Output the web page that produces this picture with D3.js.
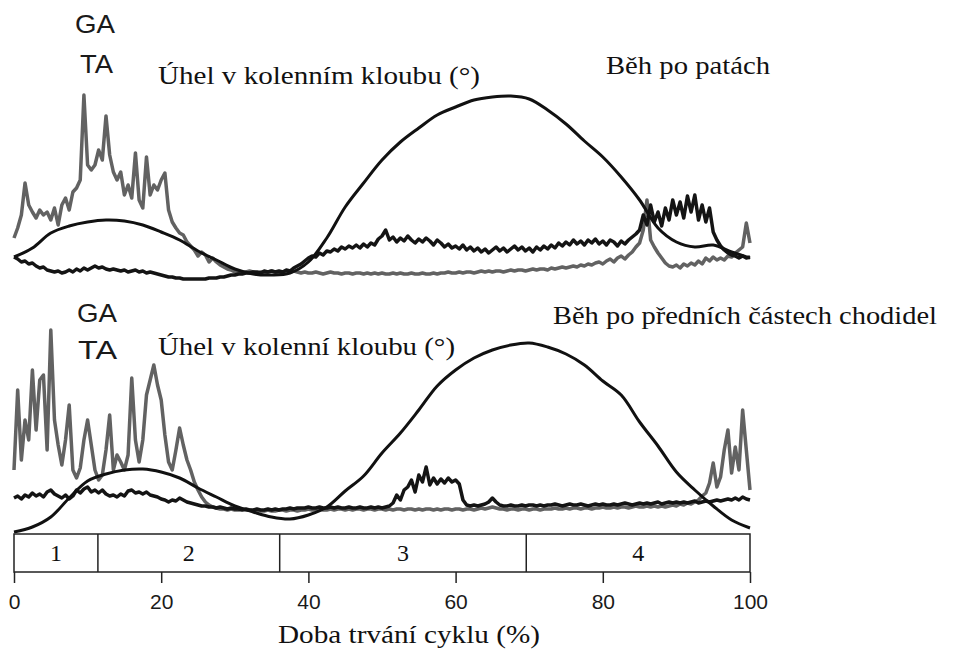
<!DOCTYPE html>
<head>
  <meta charset="utf-8">
  <style>
    body { margin: 0; background: #fff; }
    svg { background-color: #fff; }
    .serif { font-family: "Liberation Serif", "Times New Roman", serif; fill: #111; }
    .sans { font-family: "Liberation Sans", Arial, sans-serif; fill: #1a1a1a; }
    .ga { fill: none; stroke: #626262; stroke-width: 3.5px; stroke-linejoin: round; }
    .ta { fill: none; stroke: #141414; stroke-width: 3.5px; stroke-linejoin: round; }
    .knee { fill: none; stroke: #111; stroke-width: 3px; }
    .phase { fill: none; stroke: #222; stroke-width: 1.5px; }
  </style>
</head>
<body>
<svg></svg>
<script src="https://d3js.org/d3.v7.min.js"></script>
<script>
  // x axis and gait phases (% of cycle)
  const cycleTicks = [0, 20, 40, 60, 80, 100];
  const phaseBounds = [0, 11.4, 36.1, 69.6, 100];
  const phaseLabels = ["1", "2", "3", "4"];

  // Běh po patách -- EMG every 0.5 % of the cycle (arbitrary units)
  const heelGA = [
    47, 57, 70, 102, 80, 73, 67, 75, 70, 73,
    65, 77, 60, 80, 87, 75, 93, 97, 105, 190,
    120, 115, 120, 135, 125, 169, 130, 113, 105, 113,
    90, 100, 87, 132, 85, 77, 128, 90, 100, 95,
    105, 112, 75, 63, 57, 52, 50, 43, 39, 35,
    29, 33, 30, 23, 27, 23, 20, 18, 16, 15,
    13,
    13, 12, 13, 14, 13, 12, 13, 12, 13, 14,
    13, 12, 13, 12, 13, 14, 13, 12, 13, 12,
    12, 13, 12, 11, 12, 13, 12, 12, 11, 12,
    12, 11, 12, 12, 11, 12, 11, 12, 11, 12,
    11, 11, 12, 11, 12, 11, 11, 12, 11, 11,
    12, 11, 11, 12, 11, 12, 12, 13, 12, 12,
    13, 12, 13, 13, 12, 13, 14, 13, 14, 13,
    14, 14, 13, 14, 15, 14, 15, 15, 14, 15,
    16, 15, 16, 16, 15, 17, 16, 17, 18, 17,
    18, 19, 18, 20, 19, 21, 20, 22, 23, 21,
    24, 26, 23, 27, 29, 26, 30, 33, 38, 42,
    55, 85, 45, 38, 32, 27, 22, 19, 18, 20,
    17, 21, 19, 22, 20, 24, 21, 27, 24, 28,
    25, 27, 25, 29, 28, 32, 35, 38, 62, 42
  ];
  const heelTA = [
    28, 26, 23, 24, 21, 22, 19, 17, 18, 15,
    14, 13, 14, 12, 13, 15, 13, 16, 14, 17,
    15, 17, 19, 17, 18, 16, 15, 16, 15, 14,
    15, 13, 14, 15, 13, 14, 12, 13, 12, 11,
    10, 9, 8, 8, 7, 7, 6, 6, 6, 6,
    6, 6, 6, 7, 7, 7, 8, 8, 9, 10,
    10, 11, 11, 12, 12, 13, 13, 12, 14, 13,
    14, 13, 14, 13, 15, 14, 17, 19, 21, 24,
    27, 29, 28, 32, 30, 34, 33, 36, 34, 38,
    36, 39, 37, 40, 37, 41, 38, 42, 40, 46,
    49, 55, 45, 48, 43, 47, 44, 49, 45, 42,
    46, 43, 47, 44, 40, 45, 42, 38, 41, 37,
    39, 36, 40, 35, 38, 34, 37, 33, 36, 32,
    35, 38, 34, 37, 33, 36, 39, 35, 38, 34,
    37, 33, 38, 35, 39, 36, 40, 37, 42, 39,
    43, 40, 45, 41, 44, 40, 45, 42, 46, 41,
    44, 40, 45, 43, 39, 44, 41, 45, 48, 51,
    55, 70, 60, 80, 63, 73, 59, 77, 65, 85,
    70, 83, 67, 89, 73, 90, 65, 80, 63, 77,
    53, 45, 39, 35, 32, 30, 29, 27, 29, 27,
    28
  ];
  // knee angle every 2.5 %
  const heelKnee = [
    28, 37, 52, 59, 63, 65, 64, 60, 53, 45,
    34, 25, 16, 11, 10, 12, 23, 47, 78, 102,
    125, 143, 157, 170, 178, 185, 188, 189, 186, 175,
    161, 144, 128, 108, 85, 57, 43, 38, 40, 33,
    27
  ];

  // Běh po předních částech chodidel
  const foreGA = [
    70, 150, 80, 120, 100, 170, 110, 160, 165, 90,
    210, 120, 95, 75, 100, 135, 70, 62, 72, 100,
    120, 95, 70, 60, 65, 90, 125, 70, 85, 78,
    70, 85, 162, 100, 78, 100, 145, 160, 175, 155,
    140, 105, 78, 70, 90, 112, 95, 80, 70, 58,
    50, 43, 38, 35, 33,
    32, 31, 31, 30, 31, 30, 30, 31, 30, 30,
    29, 30, 29, 29, 30, 29, 29, 30, 30, 29,
    30, 30, 29, 30, 30, 31, 30, 30, 31, 30,
    30, 31, 30, 31, 31, 30, 31, 30, 31, 31,
    30, 31, 31, 30, 31, 31, 30, 31, 30, 31,
    31, 30, 31, 31, 30, 31, 30, 31, 31, 30,
    31, 30, 31, 31, 30, 31, 31, 30, 31, 31,
    30, 31, 32, 31, 32, 33, 32, 31, 31, 30,
    31, 31, 30, 31, 31, 30, 31, 31, 30, 31,
    31, 31, 32, 31, 31, 32, 31, 32, 32, 31,
    32, 32, 31, 32, 32, 33, 32, 32, 33, 32,
    33, 33, 32, 33, 34, 33, 33, 34, 33, 34,
    33, 34, 33, 34, 35, 34, 36, 35, 37,
    36, 38, 40, 44, 47, 57, 77, 53, 63, 90,
    110, 67, 93, 70, 130, 90, 50
  ];
  const foreTA = [
    42, 44, 41, 45, 43, 47, 44, 46, 43, 48,
    50, 46, 44, 42, 45, 41, 44, 50, 47, 51,
    53, 48, 50, 47, 50, 46, 44, 45, 43, 46,
    44, 49, 50, 47, 48, 46, 48, 45, 44, 43,
    41, 40, 38, 40, 39, 42, 40, 38, 37, 36,
    35,
    34, 34, 33, 33, 32, 33, 32, 31, 32, 31,
    31, 30, 31, 30, 30, 31, 30, 30, 31, 30,
    31, 30, 31, 31, 32, 31, 32, 32, 32, 33,
    32, 32, 33, 32, 32, 33, 32, 33, 32, 32,
    33, 32, 32, 33, 32, 32, 33, 32, 33, 32,
    33, 34,
    37, 45, 40, 50, 53, 60, 48, 65, 58, 73,
    55, 62, 56, 61, 57, 62, 58, 60, 56, 40,
    35, 34, 35, 34, 35, 36, 38, 42, 38, 35,
    34,
    34, 35, 34, 34, 35, 34, 35, 35, 34, 35,
    34, 35, 35, 36, 35, 34, 35, 36, 35, 35,
    36, 35, 34, 35, 36, 35, 36, 35, 35, 36,
    35, 36, 37, 36, 35, 36, 37, 36, 37, 36,
    37, 38, 36, 37, 38, 37, 38, 37, 38, 37,
    38, 39, 37, 38, 39, 38, 39, 40, 39, 40,
    41, 40, 42, 40, 43, 41, 40
  ];
  const foreKnee = [
    8, 13, 23, 42, 59, 66, 70, 71, 68, 62,
    52, 43, 34, 28, 23, 21, 25, 33, 49, 64,
    87, 107, 130, 154, 170, 182, 190, 195, 197, 193,
    186, 175, 159, 145, 118, 94, 68, 50, 34, 20,
    12
  ];

  const width = 953, height = 650;
  const svg = d3.select('svg').attr('width', width).attr('height', height);

  const x = d3.scaleLinear().domain([0, 100]).range([14, 750]);
  const yHeel = d3.scaleLinear().domain([0, 190]).range([285, 95]);
  const yFore = d3.scaleLinear().domain([0, 200]).range([540, 340]);

  function drawPanel(y, ga, ta, knee) {
    let g = svg.append('g');
    let emg = d3.line()
        .x(function(d, i, arr) { return x(i * 100 / (arr.length - 1)) })
        .y(function(d) { return y(d) });
    let smooth = d3.line()
        .x(function(d, i, arr) { return x(i * 100 / (arr.length - 1)) })
        .y(function(d) { return y(d) })
        .curve(d3.curveCatmullRom);

    g.append('path').datum(ga).classed('ga', true).attr('d', emg);
    g.append('path').datum(ta).classed('ta', true).attr('d', emg);
    g.append('path').datum(knee).classed('knee', true).attr('d', smooth);
  }

  drawPanel(yHeel, heelGA, heelTA, heelKnee);
  drawPanel(yFore, foreGA, foreTA, foreKnee);

  // labels
  function label(txt, cls, px, py, size, len) {
    let t = svg.append('text').classed(cls, true)
        .attr('x', px).attr('y', py)
        .style('font-size', size + 'px')
        .text(txt);
    if (len) t.attr('textLength', len).attr('lengthAdjust', 'spacingAndGlyphs');
    return t;
  }

  label('GA', 'sans', 75, 33, 25, 40);
  label('TA', 'sans', 80, 73, 25, 33);
  label('Úhel v kolenním kloubu (°)', 'serif', 158, 84, 26, 322);
  label('Běh po patách', 'serif', 606, 74, 26, 164);

  label('GA', 'sans', 77, 322, 25, 40);
  label('TA', 'sans', 78, 359, 25, 39);
  label('Úhel v kolenní kloubu (°)', 'serif', 158, 355, 26, 297);
  label('Běh po předních částech chodidel', 'serif', 553, 324, 26, 384);

  // phase box
  let boxTop = 534, boxBottom = 572;
  let phases = svg.append('g');
  phases.append('rect').classed('phase', true)
      .attr('x', x(0)).attr('y', boxTop)
      .attr('width', x(100) - x(0)).attr('height', boxBottom - boxTop);
  phases.selectAll('.divider')
      .data(phaseBounds.slice(1, -1))
      .enter().append('line')
      .classed('phase', true)
      .attr('x1', function(d) { return x(d) }).attr('x2', function(d) { return x(d) })
      .attr('y1', boxTop).attr('y2', boxBottom);
  phases.selectAll('.num')
      .data(phaseLabels)
      .enter().append('text')
      .classed('serif', true)
      .attr('text-anchor', 'middle')
      .attr('x', function(d, i) { return x((phaseBounds[i] + phaseBounds[i + 1]) / 2) })
      .attr('y', 561)
      .style('font-size', '24px')
      .text(function(d) { return d });

  // x axis
  let axis = svg.append('g')
      .attr('transform', 'translate(0,' + boxBottom + ')')
      .call(d3.axisBottom(x).tickValues(cycleTicks).tickSize(11).tickFormat(d3.format('d')));
  axis.select('.domain').remove();
  axis.selectAll('.tick line').attr('stroke', '#222').attr('stroke-width', 1.5);
  axis.selectAll('.tick text')
      .attr('y', 22)
      .attr('fill', '#1a1a1a')
      .style('font-family', '"Liberation Sans", Arial, sans-serif')
      .style('font-size', '21px');

  label('Doba trvání cyklu (%)', 'serif', 278, 643, 26, 262);
</script>
</body>
